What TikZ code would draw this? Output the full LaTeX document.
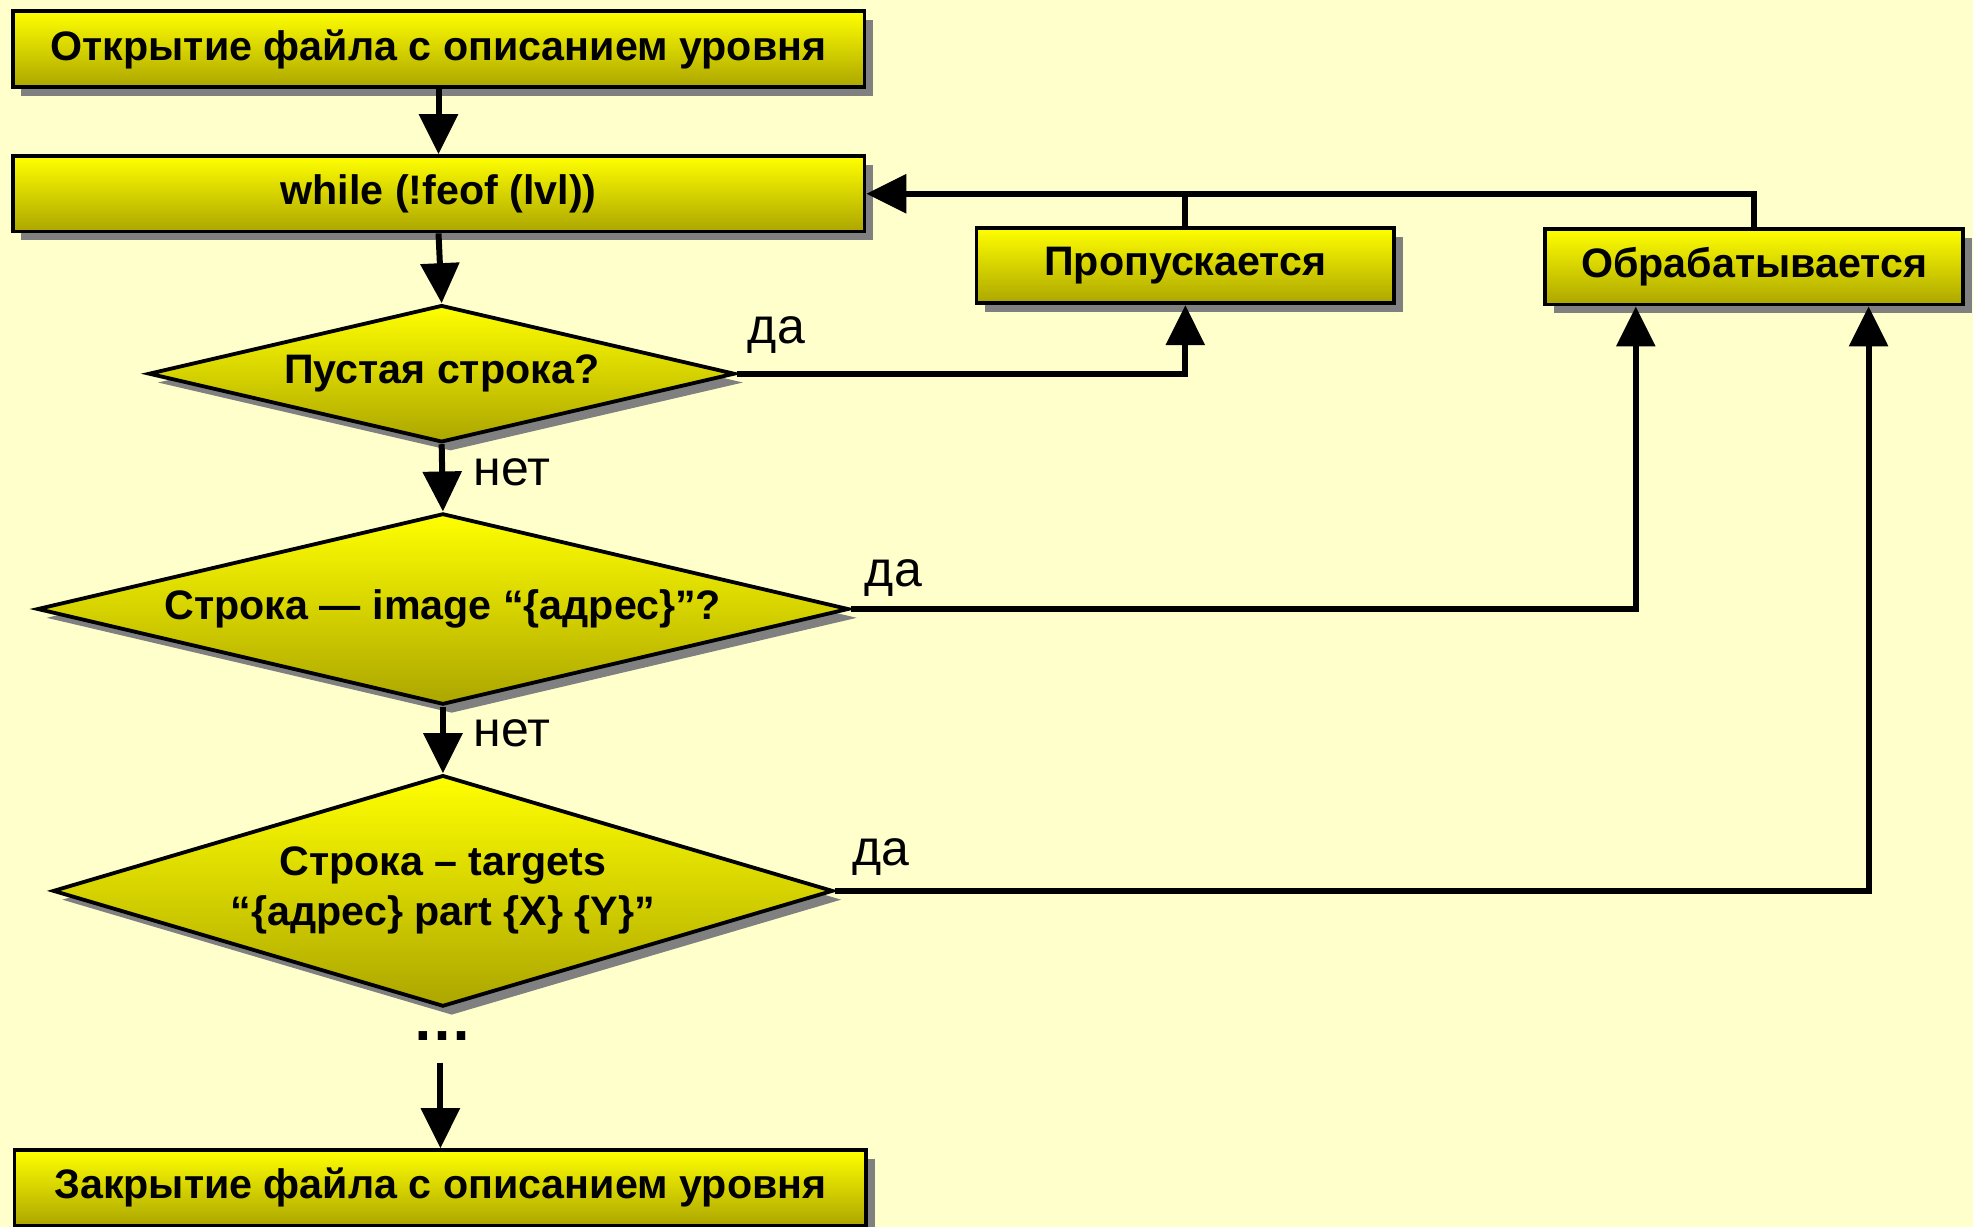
\documentclass[tikz,border=0pt]{standalone}
\usepackage{fontspec}
\setmainfont{Liberation Sans}
\usetikzlibrary{shapes.geometric,shadows,arrows.meta,calc}
\definecolor{bgc}{HTML}{FFFFCC}
\definecolor{ybot}{RGB}{172,166,0}
\definecolor{shd}{RGB}{128,128,128}
\begin{document}
\begin{tikzpicture}[x=0.629pt,y=-0.629pt,
  blk/.style={draw=black, line width=1.9pt, top color=yellow, bottom color=ybot,
    drop shadow={shadow xshift=4.4pt, shadow yshift=-4.4pt, fill=shd, opacity=1},
    font=\bfseries\fontsize{20.6}{25}\selectfont, inner sep=0pt, align=center},
  wide/.style={blk, rectangle, minimum width=425.8pt, minimum height=38pt},
  side/.style={blk, rectangle, minimum width=208.8pt, minimum height=37.7pt},
  dia/.style={blk, diamond, aspect=4},
  arr/.style={line width=3pt, -{Triangle[length=20pt,width=19pt]}},
  conn/.style={line width=3pt},
  lbl/.style={font=\fontsize{25}{30}\selectfont, inner sep=0pt}]
\fill[bgc] (0,0) rectangle (1568,975);
\useasboundingbox (0,0) rectangle (1568,975);

\node[wide] (b1) at (348.5,39) {Открытие файла с описанием уровня};
\node[wide, minimum height=37.7pt] (b2) at (348.5,154) {while (!feof (lvl))};
\node[side] (skip) at (942,211) {Пропускается};
\node[side] (proc) at (1394,212) {Обрабатывается};
\node[dia, minimum width=293.1pt, minimum height=68.6pt] (d1) at (351,297) {Пустая строка?};
\node[dia, minimum width=405.7pt, minimum height=95.6pt] (d2) at (352,484) {Строка — image “\{адрес\}”?};
\node[dia, minimum width=390pt, minimum height=115.7pt] (d3) at (352,708) {Строка – targets\\“\{адрес\} part \{X\} \{Y\}”};
\node[font=\bfseries\fontsize{30}{30}\selectfont, inner sep=0pt] (dots) at (352,823) {…};
\node[wide, minimum height=37.7pt] (b3) at (350,944) {Закрытие файла с описанием уровня};

\coordinate (dd) at ($(b3.north)+(0,-68)$);
\coordinate (p1) at ($(proc.south)+(-94,0)$);
\coordinate (p2) at ($(proc.south)+(91,0)$);

\draw[arr] (b1.south) -- (b2.north);
\draw[arr] (b2.south) -- (d1.north);
\draw[arr] (d1.south) -- (d2.north);
\draw[arr] (d2.south) -- (d3.north);
\draw[arr] (dd) -- (b3.north);
\draw[arr] (d1.east) -| (skip.south);
\draw[arr] (d2.east) -| (p1);
\draw[arr] (d3.east) -| (p2);
\draw[arr] (proc.north) |- (b2.east);
\draw[conn] (skip.north) -- (skip.north |- b2.east);

\node[lbl] (l1) at (617,266) {да};
\node[lbl] (l2) at (710,459) {да};
\node[lbl] (l3) at (700,681) {да};
\node[lbl] (n1) at (407,375) {нет};
\node[lbl] (n2) at (407,583) {нет};
\end{tikzpicture}
\end{document}
